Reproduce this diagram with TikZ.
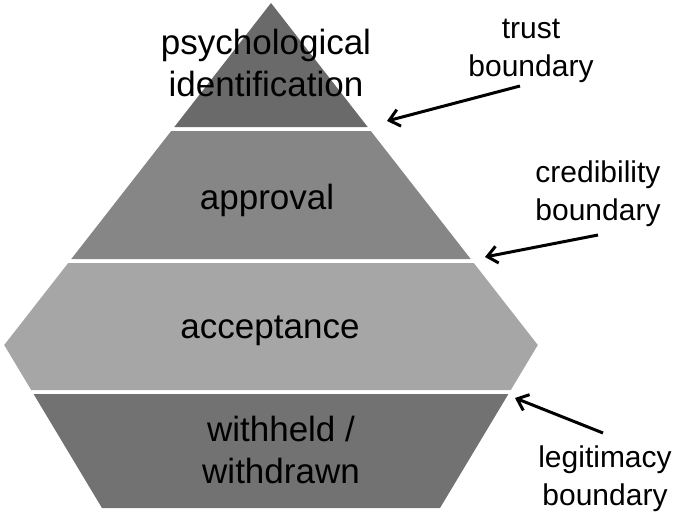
\documentclass[tikz,border=0pt]{standalone}
\usepackage{fontspec}
\setmainfont{Liberation Sans}
\usetikzlibrary{arrows.meta}
\definecolor{bandA}{HTML}{6A6A6A}
\definecolor{bandB}{HTML}{868686}
\definecolor{bandC}{HTML}{A6A6A6}
\definecolor{bandD}{HTML}{727272}
\tikzset{
  bandtext/.style={align=center, text=black, inner sep=0pt, font=\fontsize{35}{42}\selectfont},
  labeltext/.style={align=center, text=black, inner sep=0pt, font=\fontsize{30}{38}\selectfont},
  pointer/.style={line width=3pt, -{Straight Barb[length=10pt,width=17pt]}}
}
\begin{document}
\begin{tikzpicture}[x=1pt,y=-1pt]
\useasboundingbox (0,0) rectangle (685,519);
% bands
\fill[bandA] (271,3) -- (367.7,127) -- (174.3,127) -- cycle;
\fill[bandB] (171.2,131) -- (370.8,131) -- (470.7,259) -- (71.3,259) -- cycle;
\fill[bandC] (68.2,263) -- (473.8,263) -- (537.8,345) -- (510.8,390) -- (31.2,390) -- (4.2,345) -- cycle;
\fill[bandD] (33.6,394) -- (508.4,394) -- (440,508) -- (102,508) -- cycle;
% band texts
\node[bandtext] (psy) at (266,63) {psychological\\identification};
\node[bandtext] (appr) at (267,200) {approval};
\node[bandtext] (acc) at (270,331) {acceptance};
\node[bandtext] (with) at (281,450) {withheld /\\withdrawn};
% boundary labels
\node[labeltext] (trust) at (531,51) {trust\\boundary};
\node[labeltext] (cred) at (598,194) {credibility\\boundary};
\node[labeltext] (legit) at (605,479) {legitimacy\\boundary};
% arrows
\coordinate (trustTail) at (520,86);
\coordinate (trustHead) at (387,121);
\coordinate (credTail) at (598,235);
\coordinate (credHead) at (485,257);
\coordinate (legitTail) at (603,433);
\coordinate (legitHead) at (515,398);
\draw[pointer] (trustTail) -- (trustHead);
\draw[pointer] (credTail) -- (credHead);
\draw[pointer] (legitTail) -- (legitHead);
\end{tikzpicture}
\end{document}
